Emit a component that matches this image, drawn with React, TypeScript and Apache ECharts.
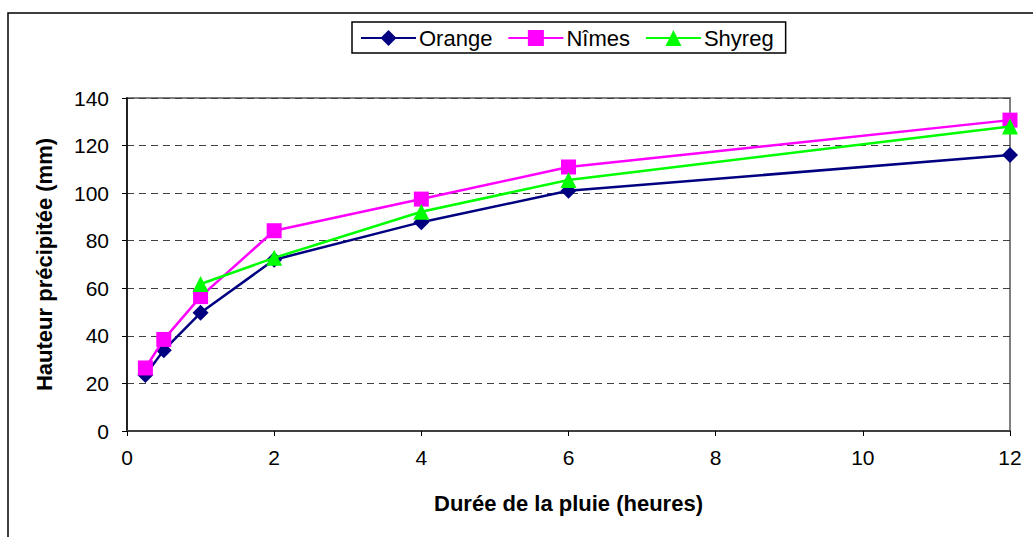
import React, { useEffect, useRef } from "react";
import * as echarts from "echarts";

const durations = [0.25, 0.5, 1, 2, 4, 6, 12];
const orangeValues = [23.5, 34, 49.7, 72, 87.8, 101, 116];
const nimesValues = [26.5, 38.5, 56.5, 84.2, 97.5, 111, 130.7];
const shyregDurations = [1, 2, 4, 6, 12];
const shyregValues = [61.8, 72.8, 92.2, 105.5, 128];
const seriesNames = ["Orange", "Nîmes", "Shyreg"];

const FONT = "'Liberation Sans', Arial, sans-serif";

export default function App() {
  const ref = useRef<HTMLDivElement>(null);
  useEffect(() => {
    document.body.style.margin = "0";
    const chart = echarts.init(ref.current!, null, { renderer: "svg" });
    const pairs = (xs: number[], ys: number[]) => xs.map((x, i) => [x, ys[i]]);
    chart.setOption({
      animation: false,
      backgroundColor: "#ffffff",
      textStyle: { fontFamily: FONT },
      graphic: [
        {
          type: "rect",
          shape: { x: 8, y: 13, width: 1200, height: 700 },
          style: { fill: "none", stroke: "#000", lineWidth: 1.5 },
          silent: true,
          z: -10,
        },
      ],
      legend: {
        left: 352,
        top: 22,
        padding: [5, 12, 4, 8],
        itemGap: 15,
        itemWidth: 55,
        itemHeight: 20,
        borderColor: "#000",
        borderWidth: 1.5,
        textStyle: { fontSize: 22, color: "#000", fontFamily: FONT, padding: [0, 0, 0, -2] },
        data: seriesNames,
      },
      grid: {
        left: 127,
        top: 98,
        right: 23,
        bottom: 106,
        show: true,
        borderColor: "#808080",
        borderWidth: 2,
      },
      xAxis: {
        type: "value",
        min: 0,
        max: 12,
        interval: 2,
        name: "Durée de la pluie (heures)",
        nameLocation: "middle",
        nameGap: 61,
        nameTextStyle: { fontSize: 22, fontWeight: "bold", color: "#000", fontFamily: FONT },
        axisLine: { show: true, lineStyle: { color: "#404040", width: 2 } },
        axisTick: { show: true, length: 5, lineStyle: { color: "#000", width: 1 } },
        axisLabel: { fontSize: 21, color: "#000", margin: 16, fontFamily: FONT },
        splitLine: { show: false },
      },
      yAxis: {
        type: "value",
        min: 0,
        max: 140,
        interval: 20,
        name: "Hauteur précipitée (mm)",
        nameLocation: "middle",
        nameGap: 72,
        nameTextStyle: { fontSize: 22, fontWeight: "bold", color: "#000", fontFamily: FONT },
        axisLine: { show: true, lineStyle: { color: "#222", width: 2 } },
        axisTick: { show: true, length: 5, lineStyle: { color: "#000", width: 1 } },
        axisLabel: { fontSize: 21, color: "#000", margin: 18, fontFamily: FONT },
        splitLine: { show: true, lineStyle: { color: "#404040", width: 1, type: [7, 5] } },
      },
      series: [
        {
          name: seriesNames[0],
          type: "line",
          data: pairs(durations, orangeValues),
          symbol: "diamond",
          symbolSize: 16,
          color: "#000080",
          lineStyle: { width: 2.5, color: "#000080" },
          itemStyle: { color: "#000080" },
          z: 2,
        },
        {
          name: seriesNames[1],
          type: "line",
          data: pairs(durations, nimesValues),
          symbol: "rect",
          symbolSize: 15,
          color: "#ff00ff",
          lineStyle: { width: 2.5, color: "#ff00ff" },
          itemStyle: { color: "#ff00ff" },
          z: 3,
        },
        {
          name: seriesNames[2],
          type: "line",
          data: pairs(shyregDurations, shyregValues),
          symbol: "triangle",
          symbolSize: 16,
          color: "#00ff00",
          lineStyle: { width: 2.5, color: "#00ff00" },
          itemStyle: { color: "#00ff00" },
          z: 4,
        },
      ],
    });
    return () => chart.dispose();
  }, []);
  return <div ref={ref} style={{ width: 1033, height: 537 }} />;
}
